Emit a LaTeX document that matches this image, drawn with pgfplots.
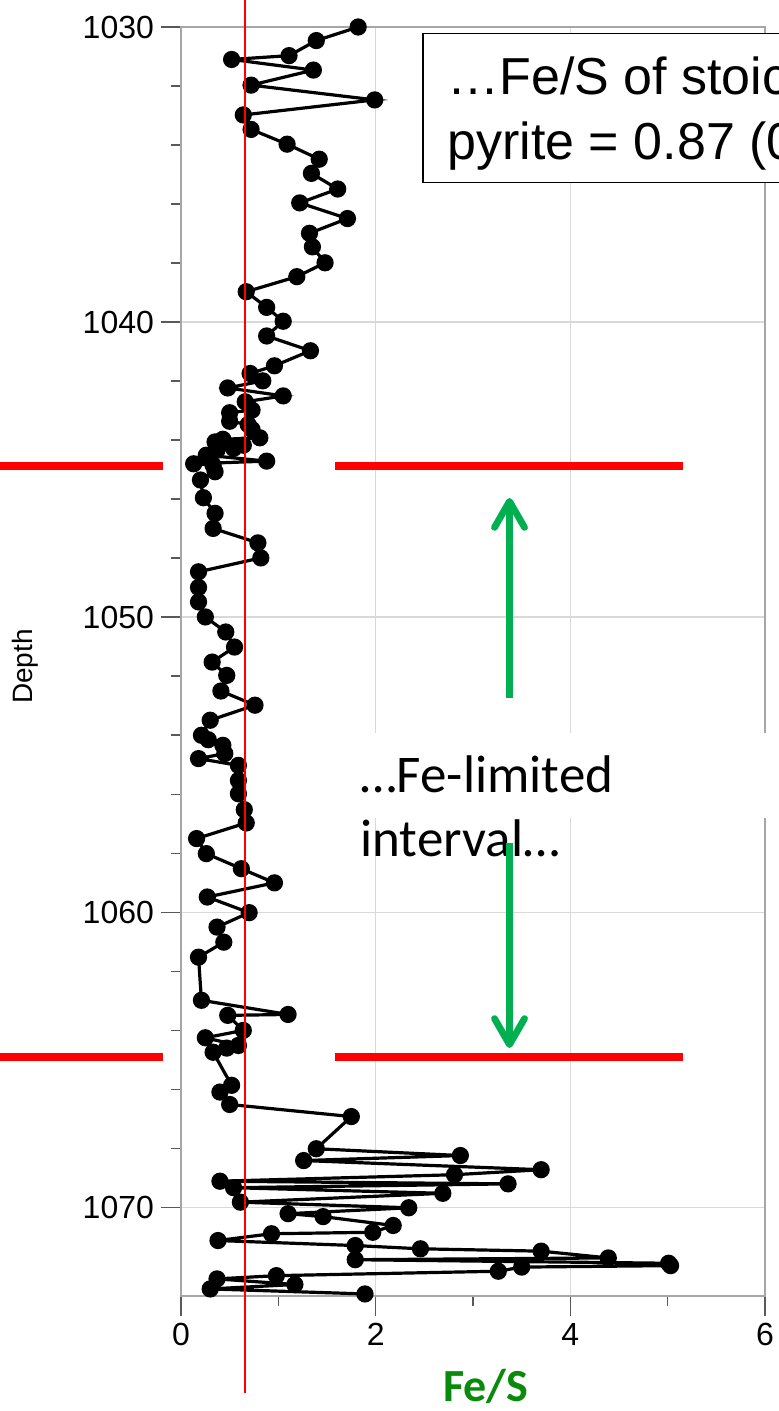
\documentclass[border=0pt]{standalone}
\usepackage{pgfplots}
\pgfplotsset{compat=1.18}
\usepackage{fontspec}
\setmainfont{Liberation Sans}
\newfontfamily\calibri{Carlito}
\usetikzlibrary{arrows.meta}
\definecolor{arrowgreen}{HTML}{00B050}
\definecolor{labelgreen}{HTML}{0A8A0A}
\definecolor{gridgrey}{HTML}{D9D9D9}
\definecolor{axisgrey}{HTML}{A6A6A6}

\pgfplotstableread{
x y
1.82 1030.00
1.39 1030.46
1.11 1030.97
0.52 1031.10
1.36 1031.46
0.72 1031.97
1.99 1032.47
0.64 1032.98
0.72 1033.47
1.09 1033.97
1.42 1034.48
1.34 1034.96
1.61 1035.49
1.22 1035.96
1.71 1036.49
1.32 1036.99
1.35 1037.45
1.48 1037.99
1.19 1038.46
0.67 1038.97
0.88 1039.50
1.05 1039.97
0.88 1040.47
1.33 1040.97
0.96 1041.48
0.71 1041.74
0.84 1041.99
0.48 1042.23
1.05 1042.50
0.66 1042.70
0.73 1042.98
0.50 1043.07
0.50 1043.36
0.69 1043.47
0.73 1043.64
0.81 1043.92
0.43 1043.97
0.35 1044.06
0.64 1044.17
0.54 1044.28
0.37 1044.34
0.26 1044.51
0.88 1044.71
0.13 1044.80
0.33 1044.85
0.35 1045.07
0.20 1045.35
0.23 1045.95
0.35 1046.48
0.33 1046.99
0.79 1047.48
0.82 1047.99
0.18 1048.46
0.18 1048.99
0.18 1049.48
0.25 1049.99
0.46 1050.50
0.55 1051.01
0.32 1051.52
0.47 1051.97
0.41 1052.50
0.76 1052.98
0.30 1053.49
0.21 1054.00
0.28 1054.15
0.43 1054.34
0.45 1054.62
0.18 1054.79
0.59 1055.02
0.59 1055.53
0.59 1055.98
0.65 1056.52
0.67 1056.97
0.16 1057.50
0.26 1058.01
0.62 1058.52
0.96 1059.00
0.27 1059.48
0.70 1060.01
0.37 1060.50
0.44 1061.01
0.18 1061.52
0.21 1062.98
1.10 1063.46
0.48 1063.49
0.64 1064.00
0.25 1064.25
0.59 1064.51
0.47 1064.60
0.33 1064.74
0.52 1065.86
0.40 1066.09
0.50 1066.51
1.75 1066.92
1.39 1068.01
2.87 1068.24
1.26 1068.41
3.70 1068.72
2.81 1068.89
0.40 1069.11
3.36 1069.20
0.54 1069.33
2.69 1069.52
0.61 1069.82
2.34 1070.01
1.10 1070.21
1.46 1070.31
2.18 1070.61
1.97 1070.84
0.93 1070.89
0.38 1071.12
1.79 1071.29
2.46 1071.40
3.70 1071.48
4.39 1071.71
1.79 1071.77
5.01 1071.89
5.03 1071.97
3.50 1072.02
3.26 1072.16
0.98 1072.31
0.37 1072.42
1.17 1072.61
0.30 1072.76
1.89 1072.93
}\fes

\begin{document}
\begin{tikzpicture}[x=1pt,y=1pt]
\path[use as bounding box, clip] (0,0) rectangle (389.5,705.5);
\begin{axis}[
  at={(90.5pt,57.5pt)}, anchor=south west,
  scale only axis, width=292pt, height=634.5pt,
  xmin=0, xmax=6, ymin=1030, ymax=1073, y dir=reverse,
  xtick={0,2,4,6}, ytick={1030,1040,1050,1060,1070},
  minor x tick num=1, minor y tick num=4,
  tick pos=left, tick align=outside,
  major tick length=10pt, minor tick length=5pt,
  every tick/.style={black!65, line width=0.8pt},
  grid=major, major grid style={gridgrey, line width=0.75pt},
  axis line style={axisgrey, line width=1pt},
  ticklabel style={font=\fontsize{16}{16}\selectfont},
  /pgf/number format/assume math mode=true,
  /pgf/number format/1000 sep={},
  xlabel={\calibri\bfseries Fe/S},
  xlabel style={font=\fontsize{23}{23}\selectfont, text=labelgreen,
    at={(axis description cs:0.522,-0.0835)}, anchor=base},
  ylabel={Depth},
  ylabel style={font=\fontsize{14}{14}\selectfont,
    at={(axis description cs:-0.267,0.496)}, anchor=center},
]
\addplot[black, line width=1.6pt, mark=*, mark size=3.5pt,
  mark options={black, solid}] table[x=x, y=y] {\fes};
\end{axis}
% red interval boundaries
\draw[red, line width=4pt] (0,472.5) -- (81.5,472.5);
\draw[red, line width=4pt] (167.5,472.5) -- (341.5,472.5);
\draw[red, line width=4pt] (0,177) -- (81.5,177);
\draw[red, line width=4pt] (167.5,177) -- (341.5,177);
% stoichiometric line
\draw[red, line width=1pt] (122.5,705.5) -- (122.5,9);
% text box for interval label
\fill[white] (167.5,296.5) rectangle (389.5,339);
\node[anchor=base west, inner sep=0, font=\calibri\fontsize{26.5}{32}\selectfont] at (180,309) {…Fe-limited};
\node[anchor=base west, inner sep=0, font=\calibri\fontsize{26.5}{32}\selectfont] at (180,277) {interval…};
% green arrows
\draw[arrowgreen, line width=3.4pt, -{Straight Barb[length=13pt,width=15pt,round]}] (254.75,356.5) -- (254.75,456.5);
\draw[arrowgreen, line width=3.4pt, -{Straight Barb[length=13pt,width=15pt,round]}] (254.75,284) -- (254.75,181.5);
% annotation box
\draw[black, line width=0.8pt, fill=white] (211.5,688.8) rectangle (520,614.2);
\node[anchor=base west, inner sep=0, font=\fontsize{26}{30}\selectfont] at (223.5,658) {…Fe/S of stoichiometric};
\node[anchor=base west, inner sep=0, font=\fontsize{26}{30}\selectfont] at (223.5,625.5) {pyrite = 0.87 (0.5 molar)};
\end{tikzpicture}
\end{document}
